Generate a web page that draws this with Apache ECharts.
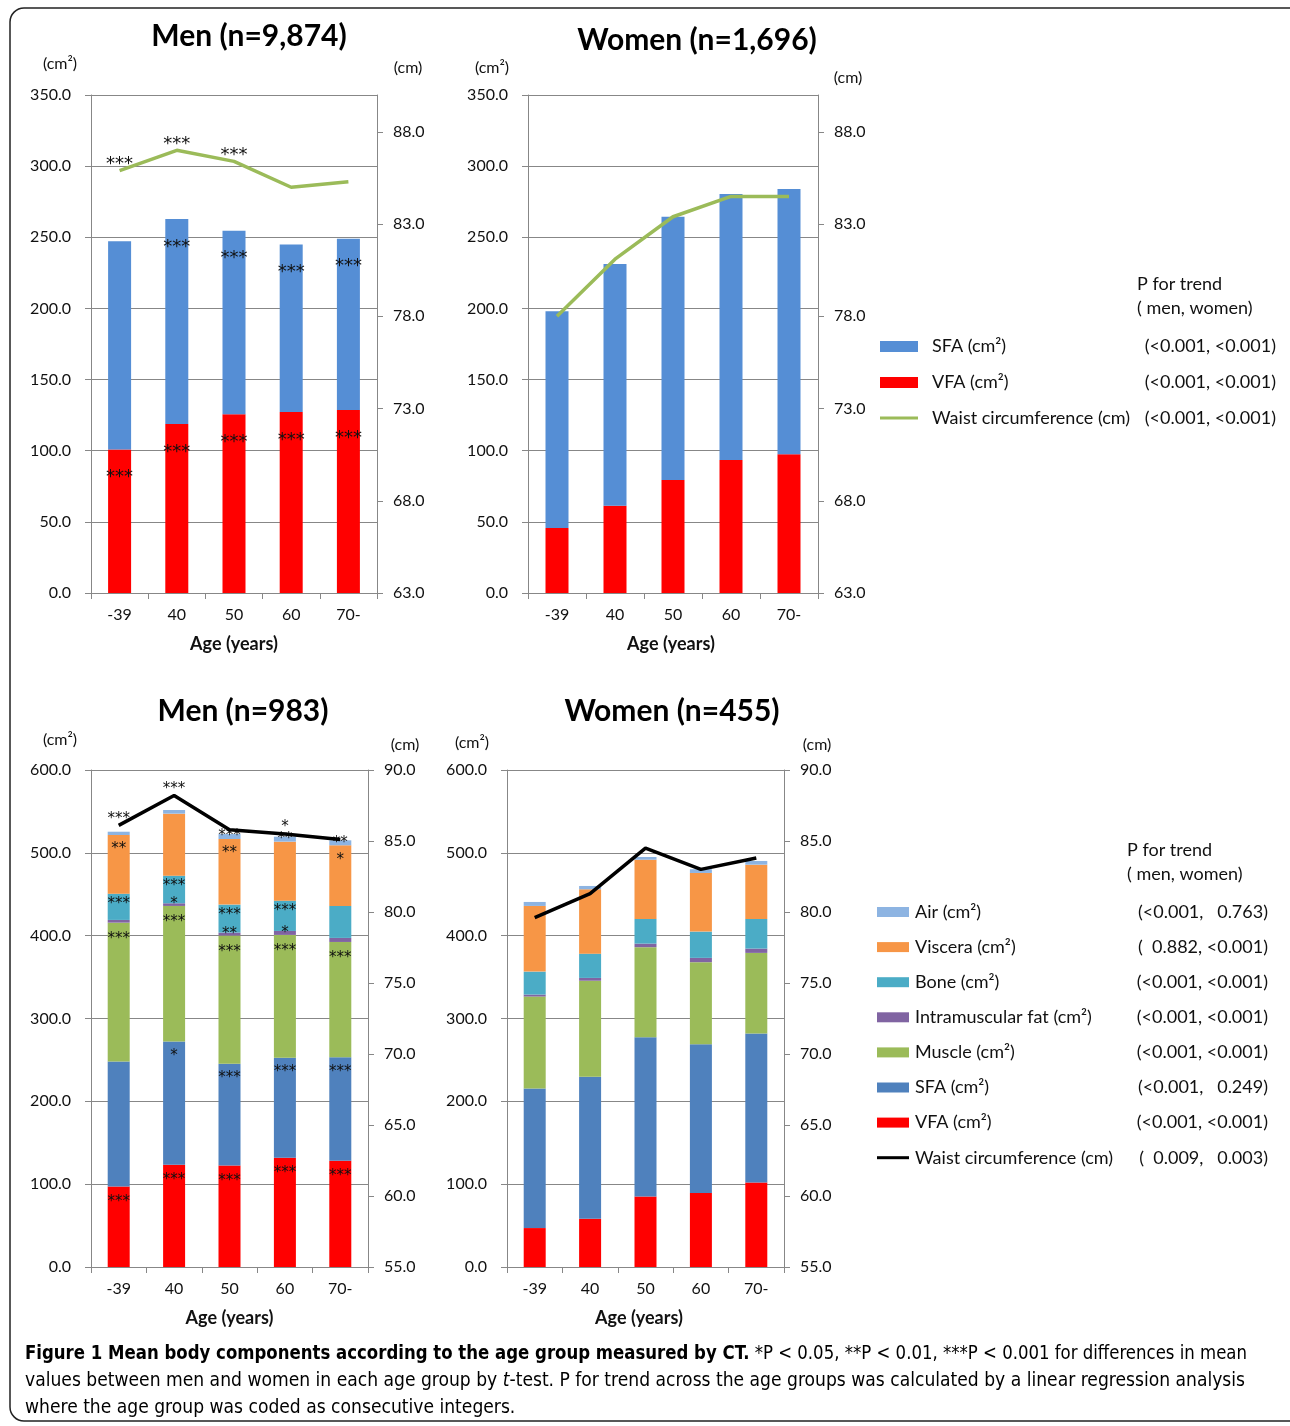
<!DOCTYPE html>
<html><head><meta charset="utf-8">
<script src="https://cdn.jsdelivr.net/npm/echarts@6/dist/echarts.min.js"></script>
<style>html,body{margin:0;padding:0;background:#fff}#c{width:1290px;height:1426px}</style>
</head><body><div id="c"></div>
<script>
// ---------- data ----------
const categories = ['-39', '40', '50', '60', '70-'];

// Top panels (CT, n=9,874 / 1,696)
const menTopVFA   = [100.8, 118.8, 125.6, 127.2, 128.6];
const menTopSFA   = [146.4, 144.0, 129.0, 117.8, 120.4];
const menTopWaist = [85.9, 87.0, 86.4, 85.0, 85.3];
const womenTopVFA   = [45.7, 61.4, 79.4, 93.5, 97.5];
const womenTopSFA   = [152.3, 169.8, 185.1, 186.9, 186.4];
const womenTopWaist = [78.0, 81.1, 83.4, 84.5, 84.5];
const topRightTicks = [63, 68, 73, 78, 83, 88];

// Bottom panels (n=983 / 455)
const menBotVFA     = [97.2, 123.4, 122.6, 131.9, 128.2];
const menBotSFA     = [150.8, 148.8, 122.7, 120.6, 125.1];
const menBotMuscle  = [167.7, 163.7, 154.8, 148.4, 139.1];
const menBotIMF     = [3.3, 3.2, 3.6, 4.8, 4.9];
const menBotBone    = [31.7, 33.3, 33.8, 36.6, 38.6];
const menBotViscera = [70.8, 74.9, 79.2, 71.2, 73.2];
const menBotAir     = [4.0, 4.4, 6.0, 6.0, 6.0];
const menBotWaist   = [86.1, 88.2, 85.8, 85.5, 85.1];

const womenBotVFA     = [47.0, 58.3, 85.2, 89.3, 102.1];
const womenBotSFA     = [168.5, 171.3, 192.3, 179.7, 179.7];
const womenBotMuscle  = [111.0, 116.0, 108.6, 99.0, 97.4];
const womenBotIMF     = [2.4, 3.4, 4.3, 5.2, 5.2];
const womenBotBone    = [27.7, 29.3, 29.8, 31.7, 35.8];
const womenBotViscera = [79.3, 77.7, 71.5, 70.8, 65.5];
const womenBotAir     = [4.8, 4.0, 3.3, 4.5, 4.5];
const womenBotWaist   = [79.6, 81.3, 84.5, 83.0, 83.8];

// significance marks (men vs women)
const sigTopWaist = ['***', '***', '***', '', ''];
const sigTopSFA   = ['', '***', '***', '***', '***'];
const sigTopVFA   = ['***', '***', '***', '***', '***'];
const sigBotWaist   = ['***', '***', '', '*', ''];
const sigBotAir     = ['', '', '***', '**', '**'];
const sigBotViscera = ['**', '', '**', '', '*'];
const sigBotBone    = ['***', '***', '***', '***', ''];
const sigBotIMF     = ['', '*', '**', '*', ''];
const sigBotMuscle  = ['***', '***', '***', '***', '***'];
const sigBotSFA     = ['', '*', '***', '***', '***'];
const sigBotVFA     = ['***', '***', '***', '***', '***'];

// legends
const topLegendNames = ['SFA (cm²)', 'VFA (cm²)', 'Waist circumference (cm)'];
const topLegendP = ['(<0.001, <0.001)', '(<0.001, <0.001)', '(<0.001, <0.001)'];
const botLegendNames = ['Air (cm²)', 'Viscera (cm²)', 'Bone (cm²)', 'Intramuscular fat (cm²)', 'Muscle (cm²)', 'SFA (cm²)', 'VFA (cm²)', 'Waist circumference (cm)'];
const botLegendP = ['(<0.001,   0.763)', '(  0.882, <0.001)', '(<0.001, <0.001)', '(<0.001, <0.001)', '(<0.001, <0.001)', '(<0.001,   0.249)', '(<0.001, <0.001)', '(  0.009,   0.003)'];

// ---------- styles ----------
const F = 'Lato, "Open Sans", sans-serif';
const AST = '"DejaVu Sans", sans-serif';
const GRAY = '#878787';
const C = {
  red: '#FF0000', sfaTop: '#558ED5', green: '#9BBB59',
  sfa: '#4F81BD', imf: '#8064A2', bone: '#4BACC6', visc: '#F79646', air: '#8DB4E2'
};

const chart = echarts.init(document.getElementById('c'), null, {renderer: 'canvas'});

function xAx(g, namePad) {
  return {
    type: 'category', gridIndex: g, data: categories, boundaryGap: true,
    axisLine: {show: true, lineStyle: {color: GRAY, width: 1}},
    axisTick: {show: true, length: 6, interval: 0, lineStyle: {color: GRAY}},
    axisLabel: {color: '#111', fontSize: 16, fontFamily: F, margin: 14},
    name: 'Age (years)', nameLocation: 'middle', nameGap: 42,
    nameTextStyle: {fontSize: 18, fontWeight: 'bold', fontFamily: F, color: '#111', padding: namePad || 0},
    splitLine: {show: false}
  };
}
function yLeft(g, max, interval) {
  return {
    type: 'value', gridIndex: g, min: 0, max: max, interval: interval, position: 'left',
    axisLine: {show: true, lineStyle: {color: GRAY}},
    axisTick: {show: true, length: 6, lineStyle: {color: GRAY}},
    axisLabel: {color: '#111', fontSize: 16, fontFamily: F, margin: 20, formatter: v => v.toFixed(1)},
    splitLine: {show: true, lineStyle: {color: GRAY, width: 1}}
  };
}
function yRightTop(g) {
  return {
    type: 'value', gridIndex: g, min: 63, max: 90, position: 'right',
    axisLine: {show: true, lineStyle: {color: GRAY}},
    axisTick: {show: true, length: 6, lineStyle: {color: GRAY}, customValues: topRightTicks},
    axisLabel: {color: '#111', fontSize: 16, fontFamily: F, margin: 16, formatter: v => v.toFixed(1), customValues: topRightTicks},
    splitLine: {show: false}
  };
}
function yRightBot(g) {
  return {
    type: 'value', gridIndex: g, min: 55, max: 90, interval: 5, position: 'right',
    axisLine: {show: true, lineStyle: {color: GRAY}},
    axisTick: {show: true, length: 6, lineStyle: {color: GRAY}},
    axisLabel: {color: '#111', fontSize: 16, fontFamily: F, margin: 16, formatter: v => v.toFixed(1)},
    splitLine: {show: false}
  };
}
function bar(name, data, color, xi, yi, stack, width, sig, lab) {
  const s = {
    name: name, type: 'bar', xAxisIndex: xi, yAxisIndex: yi, stack: stack, data: data,
    barWidth: width, itemStyle: {color: color}, z: 2
  };
  if (sig) {
    s.label = Object.assign({
      show: true, color: '#111', fontFamily: AST,
      formatter: p => sig[p.dataIndex]
    }, lab);
  }
  return s;
}
function line(name, data, color, xi, yi, sig, lab) {
  const s = {
    name: name, type: 'line', xAxisIndex: xi, yAxisIndex: yi, data: data,
    lineStyle: {color: color, width: 3.5}, itemStyle: {color: color},
    symbol: 'circle', symbolSize: 0.1, showSymbol: true, z: 5
  };
  if (sig) {
    s.label = Object.assign({show: true, color: '#111', fontFamily: AST, position: 'top',
      formatter: p => sig[p.dataIndex]}, lab);
  }
  return s;
}

const series = [
  // top men
  bar('VFA (cm²)', menTopVFA, C.red, 0, 0, 'tm', 23, sigTopVFA, {position: 'insideTop', distance: 19, fontSize: 18}),
  bar('SFA (cm²)', menTopSFA, C.sfaTop, 0, 0, 'tm', 23, sigTopSFA, {position: 'insideTop', distance: 19, fontSize: 18}),
  line('Waist circumference (cm)', menTopWaist, C.green, 0, 1, sigTopWaist, {fontSize: 18, distance: -3}),
  // top women
  bar('VFA (cm²)', womenTopVFA, C.red, 1, 2, 'tw', 23),
  bar('SFA (cm²)', womenTopSFA, C.sfaTop, 1, 2, 'tw', 23),
  line('Waist circumference (cm)', womenTopWaist, C.green, 1, 3),
  // bottom men
  bar('VFA', menBotVFA, C.red, 2, 4, 'bm', 22, sigBotVFA, {position: 'insideTop', distance: 8, fontSize: 15}),
  bar('SFA', menBotSFA, C.sfa, 2, 4, 'bm', 22, sigBotSFA, {position: 'insideTop', distance: 7, fontSize: 15}),
  bar('Muscle', menBotMuscle, C.green, 2, 4, 'bm', 22, sigBotMuscle, {position: 'insideTop', distance: 9, fontSize: 15}),
  bar('IMF', menBotIMF, C.imf, 2, 4, 'bm', 22, sigBotIMF, {position: 'inside', fontSize: 15}),
  bar('Bone', menBotBone, C.bone, 2, 4, 'bm', 22, sigBotBone, {position: 'insideTop', distance: 3, fontSize: 15}),
  bar('Viscera', menBotViscera, C.visc, 2, 4, 'bm', 22, sigBotViscera, {position: 'insideTop', distance: 7, fontSize: 15}),
  bar('Air', menBotAir, C.air, 2, 4, 'bm', 22, sigBotAir, {position: 'inside', fontSize: 15}),
  line('Waist', menBotWaist, '#000', 2, 5, sigBotWaist, {fontSize: 15, distance: -1}),
  // bottom women
  bar('VFA', womenBotVFA, C.red, 3, 6, 'bw', 22),
  bar('SFA', womenBotSFA, C.sfa, 3, 6, 'bw', 22),
  bar('Muscle', womenBotMuscle, C.green, 3, 6, 'bw', 22),
  bar('IMF', womenBotIMF, C.imf, 3, 6, 'bw', 22),
  bar('Bone', womenBotBone, C.bone, 3, 6, 'bw', 22),
  bar('Viscera', womenBotViscera, C.visc, 3, 6, 'bw', 22),
  bar('Air', womenBotAir, C.air, 3, 6, 'bw', 22),
  line('Waist', womenBotWaist, '#000', 3, 7)
];

// ---------- graphics: border, units, legends, caption ----------
const graphic = [];
graphic.push({type: 'rect', shape: {x: 10, y: 8, width: 1300, height: 1413, r: 14},
  style: {fill: 'none', stroke: '#222', lineWidth: 1.5}, silent: true, z: 0});

function txt(x, y, text, opt) {
  graphic.push({type: 'text', x: x, y: y, silent: true, z: 10,
    style: Object.assign({text: text, font: '16px ' + F, fill: '#111', textAlign: 'center', textVerticalAlign: 'middle'}, opt || {})});
}
// axis units
const UF = '16px ' + F;
txt(60, 64, '(cm²)', {font: UF});
txt(408, 68, '(cm)', {font: UF});
txt(492, 68, '(cm²)', {font: UF});
txt(848, 78, '(cm)', {font: UF});
txt(60, 740, '(cm²)', {font: UF});
txt(405, 745, '(cm)', {font: UF});
txt(472, 743, '(cm²)', {font: UF});
txt(817, 745, '(cm)', {font: UF});

// top legend
const LF = '18px ' + F;
txt(1137, 284, 'P for trend', {font: LF, textAlign: 'left'});
txt(1137, 308, '( men, women)', {font: LF, textAlign: 'left'});
const topColors = [C.sfaTop, C.red, C.green];
topLegendNames.forEach((n, i) => {
  const y = 346 + i * 36;
  if (i < 2) graphic.push({type: 'rect', shape: {x: 880, y: y - 5, width: 38, height: 11}, style: {fill: topColors[i]}, silent: true});
  else graphic.push({type: 'rect', shape: {x: 880, y: y - 1.5, width: 38, height: 3}, style: {fill: topColors[i]}, silent: true});
  txt(932, y, n, {font: LF, textAlign: 'left'});
  txt(1276, y, topLegendP[i], {font: LF, textAlign: 'right'});
});

// bottom legend
txt(1127, 850, 'P for trend', {font: LF, textAlign: 'left'});
txt(1127, 874, '( men, women)', {font: LF, textAlign: 'left'});
const botColors = [C.air, C.visc, C.bone, C.imf, C.green, C.sfa, C.red, '#000'];
botLegendNames.forEach((n, i) => {
  const y = 912 + i * 35.1;
  if (i < 7) graphic.push({type: 'rect', shape: {x: 877, y: y - 5, width: 32, height: 10}, style: {fill: botColors[i]}, silent: true});
  else graphic.push({type: 'rect', shape: {x: 877, y: y - 1.5, width: 32, height: 3}, style: {fill: botColors[i]}, silent: true});
  txt(915, y, n, {font: LF, textAlign: 'left'});
  txt(1268, y, botLegendP[i], {font: LF, textAlign: 'right'});
});

// caption (condensed by horizontal scaling to the reference line width)
const CF = '"Liberation Sans Narrow", "DejaVu Sans Condensed", "DejaVu Sans", sans-serif';
const CS = 20;
const capFonts = {
  b: 'bold ' + CS + 'px ' + CF,
  r: CS + 'px ' + CF,
  i: 'italic ' + CS + 'px ' + CF
};
const capRich = {
  b: {fontFamily: CF, fontSize: CS, fontWeight: 'bold', color: '#231F20'},
  r: {fontFamily: CF, fontSize: CS, color: '#58595B'},
  i: {fontFamily: CF, fontSize: CS, fontStyle: 'italic', color: '#58595B'}
};
const mctx = document.createElement('canvas').getContext('2d');
function measureSegs(segs) {
  let w = 0;
  segs.forEach(s => { mctx.font = capFonts[s[0]]; w += mctx.measureText(s[1]).width; });
  return w;
}
function capText(segs) { return segs.map(s => '{' + s[0] + '|' + s[1] + '}').join(''); }
const capLine1 = [['b', 'Figure 1 Mean body components according to the age group measured by CT.'], ['r', ' *P < 0.05, **P < 0.01, ***P < 0.001 for differences in mean']];
const capLine2 = [['r', 'values between men and women in each age group by '], ['i', 't'], ['r', '-test. P for trend across the age groups was calculated by a linear regression analysis']];
const capLine3 = [['r', 'where the age group was coded as consecutive integers.']];
const sc1 = 1222 / measureSegs(capLine1);
const sc2 = 1220 / measureSegs(capLine2);
function cap(y, segs, sx) {
  graphic.push({type: 'text', x: 25, y: y, scaleX: sx, silent: true, z: 10,
    style: {text: capText(segs), rich: capRich, textAlign: 'left', textVerticalAlign: 'middle'}});
}
cap(1354, capLine1, sc1);
cap(1381, capLine2, sc2);
cap(1408, capLine3, sc2);

const titleStyle = {fontSize: 30, fontWeight: 'bold', fontFamily: F, color: '#000'};
const option = {
  animation: false,
  backgroundColor: '#ffffff',
  title: [
    {text: 'Men (n=9,874)', left: 249, top: 21, textAlign: 'center', textStyle: titleStyle, padding: 0},
    {text: 'Women (n=1,696)', left: 697, top: 25, textAlign: 'center', textStyle: titleStyle, padding: 0},
    {text: 'Men (n=983)', left: 243, top: 696, textAlign: 'center', textStyle: titleStyle, padding: 0},
    {text: 'Women (n=455)', left: 672, top: 696, textAlign: 'center', textStyle: titleStyle, padding: 0}
  ],
  grid: [
    {left: 91, top: 95, width: 286, height: 498, containLabel: false, outerBoundsMode: 'none'},
    {left: 528, top: 95, width: 290, height: 498, containLabel: false, outerBoundsMode: 'none'},
    {left: 91, top: 770, width: 277, height: 497, containLabel: false, outerBoundsMode: 'none'},
    {left: 507, top: 770, width: 277, height: 497, containLabel: false, outerBoundsMode: 'none'}
  ],
  xAxis: [xAx(0), xAx(1, [0, 4, 0, 0]), xAx(2), xAx(3, [0, 13, 0, 0])],
  yAxis: [yLeft(0, 350, 50), yRightTop(0), yLeft(1, 350, 50), yRightTop(1),
          yLeft(2, 600, 100), yRightBot(2), yLeft(3, 600, 100), yRightBot(3)],
  series: series,
  graphic: graphic
};
chart.setOption(option);
</script></body></html>
